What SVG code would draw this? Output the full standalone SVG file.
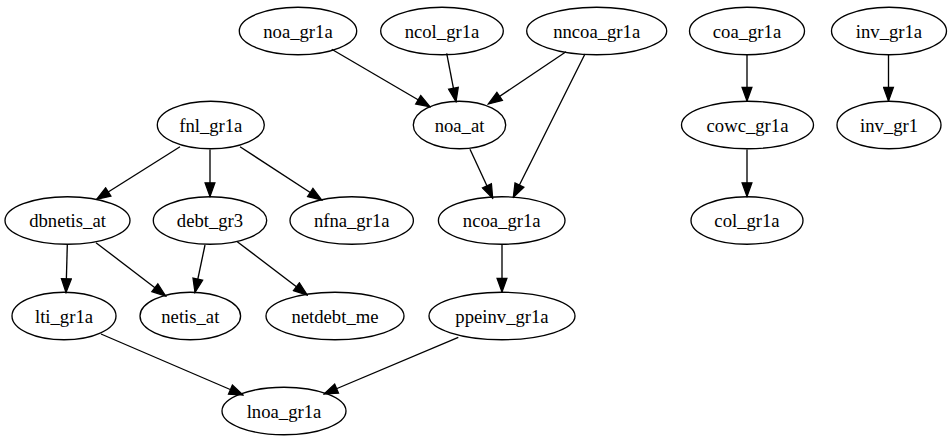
<svg xmlns="http://www.w3.org/2000/svg" width="951" height="443" viewBox="0 0 951 443">
<style>
.n ellipse{fill:none;stroke:#000;stroke-width:1.33}
#edges line{stroke:#000;stroke-width:1.33;marker-end:url(#ah)}
</style>
<defs>
<marker id="ah" markerUnits="userSpaceOnUse" markerWidth="16" markerHeight="12" viewBox="-1 -1 15 11.4" refX="13" refY="4.7" orient="auto">
<path d="M0,0 L13,4.7 L0,9.4 z" fill="#000" stroke="#000" stroke-width="1.2"/>
</marker>
</defs>
<rect width="951" height="443" fill="#fff"/>
<g id="edges">
<line x1="331.7" y1="49.3" x2="430" y2="106.7"/>
<line x1="446.7" y1="53.3" x2="456" y2="101.7"/>
<line x1="566" y1="51.7" x2="488.3" y2="104"/>
<line x1="585" y1="54" x2="513.3" y2="197.3"/>
<line x1="470" y1="149.3" x2="492.7" y2="198.3"/>
<line x1="502" y1="245" x2="502" y2="292"/>
<line x1="458.3" y1="337.3" x2="324" y2="394"/>
<line x1="101" y1="334" x2="243" y2="395"/>
<line x1="180" y1="146.7" x2="96.7" y2="199.3"/>
<line x1="210" y1="149.5" x2="210" y2="196.5"/>
<line x1="240" y1="146.7" x2="321.7" y2="200"/>
<line x1="67.3" y1="245" x2="66" y2="292.5"/>
<line x1="96" y1="242.7" x2="165.7" y2="296"/>
<line x1="205" y1="245" x2="195" y2="292.5"/>
<line x1="237.3" y1="241.7" x2="307.3" y2="295"/>
<line x1="747" y1="55" x2="747" y2="101"/>
<line x1="747" y1="149.5" x2="747" y2="196.5"/>
<line x1="888.5" y1="55" x2="888.5" y2="101"/>
</g>
<g font-family="Liberation Serif, Times New Roman, serif" font-size="18.67" text-anchor="middle" fill="#000">
<g id="noa_gr1a" class="n"><ellipse cx="298" cy="31" rx="58.7" ry="23.75"/><text x="298" y="37.5">noa_gr1a</text></g>
<g id="ncol_gr1a" class="n"><ellipse cx="442" cy="31" rx="61.3" ry="23.75"/><text x="442" y="37.5">ncol_gr1a</text></g>
<g id="nncoa_gr1a" class="n"><ellipse cx="596.7" cy="31" rx="70" ry="23.75"/><text x="596.7" y="37.5">nncoa_gr1a</text></g>
<g id="coa_gr1a" class="n"><ellipse cx="747" cy="31" rx="57.5" ry="23.75"/><text x="747" y="37.5">coa_gr1a</text></g>
<g id="inv_gr1a" class="n"><ellipse cx="889" cy="31" rx="57.5" ry="23.75"/><text x="889" y="37.5">inv_gr1a</text></g>
<g id="fnl_gr1a" class="n"><ellipse cx="210.8" cy="125" rx="53.5" ry="23.75"/><text x="210.8" y="131.5">fnl_gr1a</text></g>
<g id="noa_at" class="n"><ellipse cx="459.5" cy="125" rx="46.2" ry="23.75"/><text x="459.5" y="131.5">noa_at</text></g>
<g id="cowc_gr1a" class="n"><ellipse cx="747.5" cy="125" rx="66" ry="23.75"/><text x="747.5" y="131.5">cowc_gr1a</text></g>
<g id="inv_gr1" class="n"><ellipse cx="889" cy="125" rx="52" ry="23.75"/><text x="889" y="131.5">inv_gr1</text></g>
<g id="dbnetis_at" class="n"><ellipse cx="67.5" cy="220.5" rx="62.5" ry="23.75"/><text x="67.5" y="227">dbnetis_at</text></g>
<g id="debt_gr3" class="n"><ellipse cx="210" cy="220.5" rx="56.7" ry="23.75"/><text x="210" y="227">debt_gr3</text></g>
<g id="nfna_gr1a" class="n"><ellipse cx="351.7" cy="220.5" rx="61.7" ry="23.75"/><text x="351.7" y="227">nfna_gr1a</text></g>
<g id="ncoa_gr1a" class="n"><ellipse cx="501.7" cy="220.5" rx="63.3" ry="23.75"/><text x="501.7" y="227">ncoa_gr1a</text></g>
<g id="col_gr1a" class="n"><ellipse cx="747" cy="220.5" rx="56" ry="23.75"/><text x="747" y="227">col_gr1a</text></g>
<g id="lti_gr1a" class="n"><ellipse cx="64" cy="316" rx="52" ry="23.75"/><text x="64" y="322.5">lti_gr1a</text></g>
<g id="netis_at" class="n"><ellipse cx="190.3" cy="316" rx="50.3" ry="23.75"/><text x="190.3" y="322.5">netis_at</text></g>
<g id="netdebt_me" class="n"><ellipse cx="335" cy="316" rx="69" ry="23.75"/><text x="335" y="322.5">netdebt_me</text></g>
<g id="ppeinv_gr1a" class="n"><ellipse cx="502" cy="316" rx="73" ry="23.75"/><text x="502" y="322.5">ppeinv_gr1a</text></g>
<g id="lnoa_gr1a" class="n"><ellipse cx="284" cy="411" rx="62" ry="23.75"/><text x="284" y="417.5">lnoa_gr1a</text></g>
</g>
</svg>
